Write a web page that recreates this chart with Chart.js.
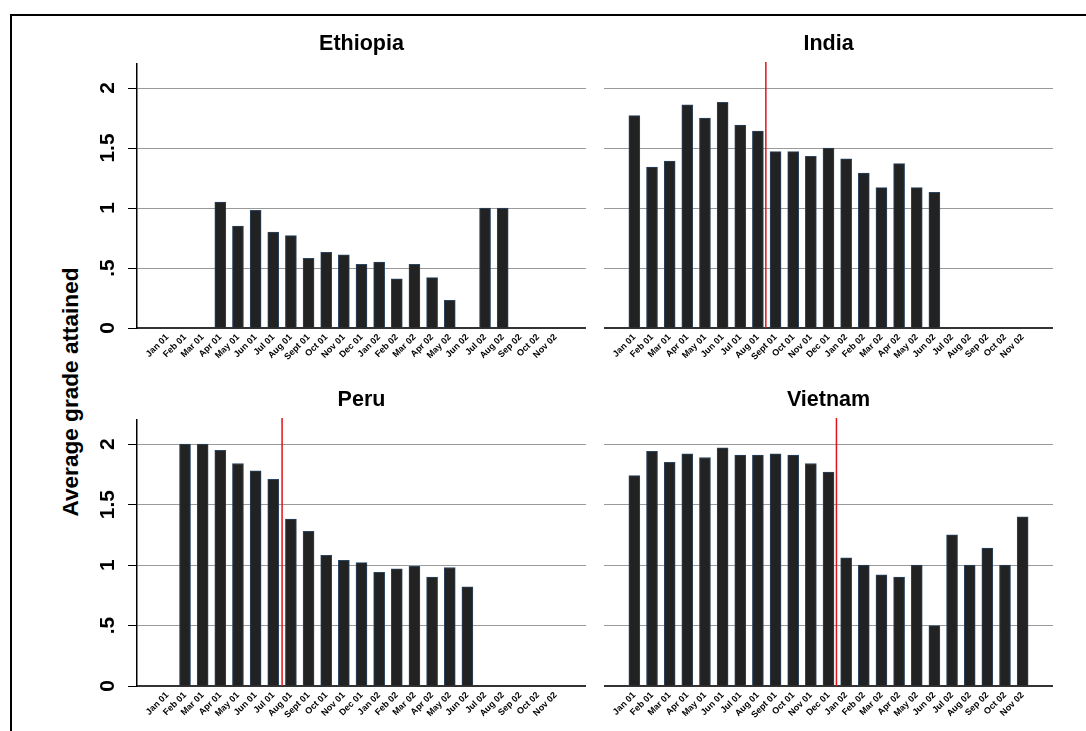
<!DOCTYPE html>
<html>
<head>
<meta charset="utf-8">
<title>Average grade attained</title>
<script src="https://cdn.jsdelivr.net/npm/chart.js@4.4.0/dist/chart.umd.min.js"></script>
<style>
  html, body { margin: 0; padding: 0; background: #fff; }
  body { width: 1086px; height: 731px; position: relative; overflow: hidden; font-family: "Liberation Sans", Arial, sans-serif; }
  .frame { position: absolute; left: 10px; top: 14px; width: 1200px; height: 900px; border-left: 2px solid #000; border-top: 2px solid #000; }
  canvas { position: absolute; }
  #ytitle { position: absolute; left: 71px; top: 392px; transform: translate(-50%, -50%) rotate(-90deg); font-weight: bold; font-size: 22.6px; white-space: nowrap; color: #000; }
</style>
</head>
<body>
<div class="frame"></div>
<div id="ytitle">Average grade attained</div>
<canvas id="ethiopiaChart" width="572" height="356" style="left:14px;top:16px"></canvas>
<canvas id="indiaChart" width="449" height="356" style="left:604px;top:16px"></canvas>
<canvas id="peruChart" width="572" height="358" style="left:14px;top:372px"></canvas>
<canvas id="vietnamChart" width="449" height="358" style="left:604px;top:372px"></canvas>

<script>
// Data
const months = ["Jan 01", "Feb 01", "Mar 01", "Apr 01", "May 01", "Jun 01", "Jul 01", "Aug 01", "Sept 01", "Oct 01", "Nov 01", "Dec 01",
  "Jan 02", "Feb 02", "Mar 02", "Apr 02", "May 02", "Jun 02", "Jul 02", "Aug 02", "Sep 02", "Oct 02", "Nov 02"]

const ethiopia = [null, null, null, 1.05, 0.85, 0.98, 0.80, 0.77, 0.58, 0.63, 0.61, 0.53,
  0.55, 0.41, 0.53, 0.42, 0.23, null, 1.00, 1.00, null, null, null]
const india = [1.77, 1.34, 1.39, 1.86, 1.75, 1.88, 1.69, 1.64, 1.47, 1.47, 1.43, 1.50,
  1.41, 1.29, 1.17, 1.37, 1.17, 1.13, null, null, null, null, null]
const peru = [null, 2.00, 2.00, 1.95, 1.84, 1.78, 1.71, 1.38, 1.28, 1.08, 1.04, 1.02,
  0.94, 0.97, 0.99, 0.90, 0.98, 0.82, null, null, null, null, null]
const vietnam = [1.74, 1.94, 1.85, 1.92, 1.89, 1.97, 1.91, 1.91, 1.92, 1.91, 1.84, 1.77,
  1.06, 1.00, 0.92, 0.90, 1.00, 0.50, 1.25, 1.00, 1.14, 1.00, 1.40]

// red marker between months (in month units from Jan 01)
const cutoffs = { ethiopia: null, india: 7.45, peru: 6.5, vietnam: 11.45 }

const yTickValues = [0, 0.5, 1, 1.5, 2]
const yTickLabels = ["0", ".5", "1", "1.5", "2"]

// pick a narrow face for titles / month labels if we have one
function hasFont(name) {
  const c = document.createElement("canvas").getContext("2d")
  c.font = "bold 40px monospace"
  const a = c.measureText("Ethiopia Jan 01").width
  c.font = 'bold 40px "' + name + '", monospace'
  return c.measureText("Ethiopia Jan 01").width !== a
}
const narrow = hasFont("Liberation Sans Narrow")
const titleFont = narrow ? { family: "Liberation Sans Narrow", size: 24, weight: "bold" } : { family: "Liberation Sans", size: 21.5, weight: "bold" }
const monthFont = narrow ? { family: "Liberation Sans Narrow", size: 10, weight: "bold" } : { family: "Liberation Sans", size: 9, weight: "bold" }
// title block should end 48px below the canvas top
const titleLine = titleFont.size * 1.2
const titlePad = { top: 15.5, bottom: 48 - 15.5 - titleLine }

const cutoffLine = {
  id: "cutoffLine",
  afterDatasetsDraw(chart, args, opts) {
    if (opts.at == null) return
    const { ctx, chartArea, scales } = chart
    const x = scales.x.getPixelForValue(opts.at)
    ctx.save()
    ctx.strokeStyle = "#e3131b"
    ctx.lineWidth = 1.5
    ctx.beginPath()
    ctx.moveTo(x, chartArea.top - 2)
    ctx.lineTo(x, chartArea.bottom)
    ctx.stroke()
    ctx.restore()
  }
}

function createPanel(id, title, values, cutoff, showY) {
  const ctx = document.getElementById(id).getContext("2d")
  const points = []
  values.forEach((v, i) => { if (v != null) points.push({ x: i, y: v }) })

  new Chart(ctx, {
    type: "bar",
    data: {
      datasets: [{
        data: points,
        backgroundColor: "#222222",
        borderColor: "#2a4561",
        borderWidth: 1,
        barThickness: 11
      }]
    },
    plugins: [cutoffLine],
    options: {
      responsive: false,
      animation: false,
      layout: { padding: 0 },
      plugins: {
        legend: { display: false },
        tooltip: { enabled: false },
        title: {
          display: true,
          text: title,
          color: "#000",
          fullSize: false,
          font: titleFont,
          padding: titlePad
        },
        cutoffLine: { at: cutoff }
      },
      scales: {
        x: {
          type: "linear",
          offset: false,
          bounds: "data",
          min: -1.72,
          max: months.length - 1 + 1.72,
          afterBuildTicks: (s) => { s.ticks = months.map((m, i) => ({ value: i })) },
          afterFit: (s) => { s.height = 44 },
          grid: { display: false, drawTicks: false },
          border: { display: true, color: "#333", width: 2 },
          ticks: {
            autoSkip: false,
            minRotation: 45,
            maxRotation: 45,
            padding: 4,
            color: "#000",
            font: monthFont,
            callback: (v) => months[v]
          }
        },
        y: {
          min: 0,
          max: 2.2,
          afterBuildTicks: (s) => { s.ticks = yTickValues.map((v) => ({ value: v })) },
          afterFit: (s) => { s.width = showY ? 123 : 0 },
          grid: {
            color: "#9a9a9a",
            lineWidth: 1,
            drawTicks: showY,
            tickLength: 9,
            tickColor: "#000"
          },
          border: { display: showY, color: "#000", width: 1.5 },
          ticks: {
            display: showY,
            minRotation: 90,
            maxRotation: 90,
            crossAlign: "center",
            padding: 5,
            color: "#000",
            font: { family: "Liberation Sans", size: 21, weight: "bold" },
            callback: (v) => yTickLabels[yTickValues.indexOf(v)]
          }
        }
      }
    }
  })
}

document.addEventListener("DOMContentLoaded", () => {
  createPanel("ethiopiaChart", "Ethiopia", ethiopia, cutoffs.ethiopia, true)
  createPanel("indiaChart", "India", india, cutoffs.india, false)
  createPanel("peruChart", "Peru", peru, cutoffs.peru, true)
  createPanel("vietnamChart", "Vietnam", vietnam, cutoffs.vietnam, false)
})
</script>
</body>
</html>
